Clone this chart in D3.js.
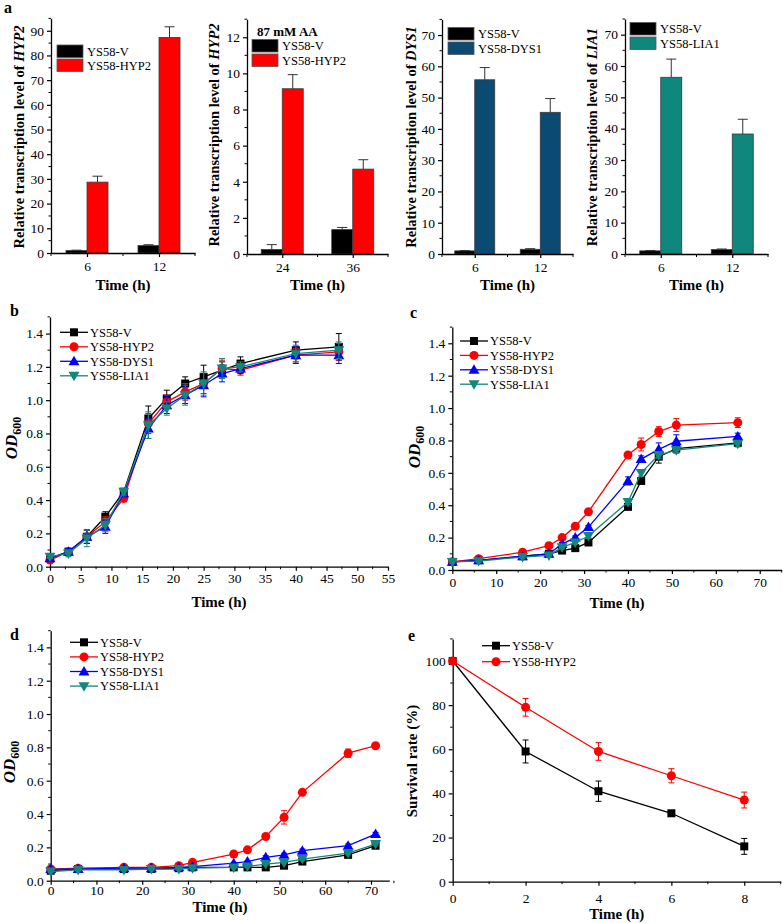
<!DOCTYPE html>
<html><head><meta charset="utf-8">
<script src="https://cdn.jsdelivr.net/npm/d3@7"></script>
<style>body{margin:0;background:#fff}svg{display:block}text{font-family:"Liberation Serif","Times New Roman",serif;fill:#000}</style>
</head><body><svg id="c" width="783" height="923"></svg>
<script>
// ---------------- DATA ----------------
const seriesNames = ["YS58-V","YS58-HYP2","YS58-DYS1","YS58-LIA1"];
const seriesColors = ["#000000","#ff0000","#0000ff","#13877d"];
const barColors = {V:"#000000", HYP2:"#ff0000", DYS1:"#0b4a72", LIA1:"#0f877c"};

// panel a1: HYP2 transcription
const a1Cats = ["6","12"];
const a1V = [1.0, 3.0], a1VErr = [0.15, 0.35];
const a1O = [28.7, 87.3], a1OErr = [2.4, 4.3];
// panel a2: HYP2 under 87 mM AA
const a2Cats = ["24","36"];
const a2V = [0.25, 1.35], a2VErr = [0.27, 0.12];
const a2O = [9.15, 4.7], a2OErr = [0.78, 0.52];
// panel a3: DYS1
const a3Cats = ["6","12"];
const a3V = [1.0, 1.5], a3VErr = [0.1, 0.2];
const a3O = [55.7, 45.3], a3OErr = [3.9, 4.4];
// panel a4: LIA1
const a4Cats = ["6","12"];
const a4V = [1.0, 1.4], a4VErr = [0.1, 0.2];
const a4O = [56.4, 38.3], a4OErr = [5.8, 4.7];

// panel b
const bTime = [0,3,6,9,12,16,19,22,25,28,31,40,47];
const bV    = [0.05,0.09,0.18,0.30,0.45,0.89,1.01,1.10,1.14,1.18,1.22,1.30,1.32];
const bHYP2 = [0.04,0.09,0.18,0.27,0.41,0.86,0.99,1.05,1.10,1.19,1.18,1.27,1.29];
const bDYS1 = [0.05,0.09,0.18,0.24,0.44,0.83,0.97,1.03,1.09,1.16,1.19,1.27,1.27];
const bLIA1 = [0.06,0.08,0.17,0.25,0.45,0.85,0.95,1.03,1.10,1.19,1.20,1.28,1.30];
const bVErr    = [0.01,0.02,0.04,0.03,0.02,0.075,0.05,0.04,0.07,0.05,0.04,0.05,0.08];
const bHYP2Err = [0.01,0.02,0.04,0.03,0.02,0.06,0.04,0.05,0.06,0.05,0.03,0.04,0.05];
const bDYS1Err = [0.01,0.02,0.04,0.04,0.02,0.06,0.05,0.05,0.07,0.05,0.03,0.05,0.05];
const bLIA1Err = [0.01,0.02,0.05,0.04,0.02,0.08,0.04,0.06,0.07,0.06,0.03,0.05,0.05];

// panel c
const cTime = [0,6,16,22,25,28,31,40,43,47,51,65];
const cV    = [0.05,0.06,0.085,0.10,0.12,0.135,0.17,0.39,0.55,0.70,0.75,0.785];
const cHYP2 = [0.05,0.07,0.11,0.15,0.20,0.27,0.36,0.71,0.775,0.855,0.895,0.91];
const cDYS1 = [0.05,0.06,0.085,0.10,0.16,0.20,0.265,0.55,0.685,0.745,0.795,0.825];
const cLIA1 = [0.05,0.055,0.08,0.09,0.14,0.17,0.21,0.42,0.60,0.71,0.74,0.78];
const cVErr    = [0.01,0.01,0.01,0.01,0.01,0.01,0.01,0.015,0.015,0.04,0.02,0.015];
const cHYP2Err = [0.01,0.01,0.01,0.01,0.01,0.01,0.01,0.015,0.04,0.03,0.04,0.03];
const cDYS1Err = [0.01,0.01,0.01,0.01,0.01,0.01,0.01,0.025,0.02,0.04,0.04,0.02];
const cLIA1Err = [0.01,0.01,0.01,0.01,0.01,0.01,0.01,0.015,0.02,0.02,0.02,0.02];

// panel d
const dTime = [0,6,16,22,28,31,40,43,47,51,55,65,71];
const dV    = [0.06,0.07,0.07,0.07,0.075,0.08,0.08,0.08,0.08,0.09,0.115,0.155,0.21];
const dHYP2 = [0.07,0.075,0.08,0.08,0.09,0.11,0.16,0.185,0.265,0.38,0.53,0.765,0.81];
const dDYS1 = [0.07,0.07,0.075,0.075,0.08,0.085,0.105,0.115,0.14,0.155,0.18,0.21,0.28];
const dLIA1 = [0.055,0.065,0.065,0.07,0.07,0.075,0.08,0.085,0.10,0.11,0.13,0.165,0.22];
const dVErr    = [0.005,0.005,0.005,0.005,0.005,0.005,0.005,0.005,0.005,0.005,0.01,0.01,0.01];
const dHYP2Err = [0.005,0.005,0.005,0.005,0.01,0.01,0.01,0.01,0.01,0.04,0.01,0.025,0.01];
const dDYS1Err = [0.005,0.005,0.005,0.005,0.005,0.005,0.005,0.005,0.01,0.01,0.01,0.01,0.01];
const dLIA1Err = [0.005,0.005,0.005,0.005,0.005,0.005,0.005,0.005,0.005,0.005,0.01,0.01,0.01];

// panel e
const eTime = [0,2,4,6,8];
const eV    = [100,59,41,31,16];
const eHYP2 = [100,79,59,48,37];
const eVErr    = [0,5.2,4.6,1.2,3.6];
const eHYP2Err = [0,4,4,3.2,3.6];

// ---------------- DRAWING ----------------
const svg = d3.select("#c");
const TICKFS = 13.5, LEGFS = 12.5, LABFS = 15;

function styleAxis(g){
  g.selectAll("path.domain").attr("stroke","#000").attr("stroke-width",1.3);
  g.selectAll(".tick line").attr("stroke","#000").attr("stroke-width",1.2);
  g.selectAll(".tick text").attr("font-family","Liberation Serif, serif").attr("font-size",TICKFS).attr("fill","#000");
}
function minorTicks(g, scale, vals, orient, len){
  vals.forEach(v=>{
    if(orient==="bottom") g.append("line").attr("x1",scale(v)).attr("x2",scale(v)).attr("y1",0).attr("y2",len).attr("stroke","#000").attr("stroke-width",1);
    else g.append("line").attr("y1",scale(v)).attr("y2",scale(v)).attr("x1",0).attr("x2",-len).attr("stroke","#000").attr("stroke-width",1);
  });
}
function range(a,b,s){const r=[];for(let v=a;v<=b+1e-9;v+=s)r.push(+v.toFixed(4));return r;}

function barPanel(o){
  const x = d3.scaleLinear().domain([0.5, o.cats.length+0.5]).range([o.left,o.right]);
  const y = d3.scaleLinear().domain([0,o.ymax]).range([o.y0,o.top]);
  const g = svg.append("g");
  const bw = o.bw;
  const groups = o.cats.map((c,i)=>({i, c, v:o.v[i], ve:o.ve[i], ov:o.ov[i], oe:o.oe[i]}));
  groups.forEach(d=>{
    const cx = x(d.i+1);
    [[cx-bw, d.v, d.ve, barColors.V],[cx, d.ov, d.oe, o.color]].forEach(([bx,val,err,col])=>{
      g.append("rect").attr("x",bx).attr("y",y(val)).attr("width",bw).attr("height",y(0)-y(val))
        .attr("fill",col).attr("stroke","#3a3a3a").attr("stroke-width",0.8);
      const mx = bx+bw/2;
      g.append("line").attr("x1",mx).attr("x2",mx).attr("y1",y(val)).attr("y2",y(val+err)).attr("stroke","#333").attr("stroke-width",1);
      g.append("line").attr("x1",mx-5).attr("x2",mx+5).attr("y1",y(val+err)).attr("y2",y(val+err)).attr("stroke","#333").attr("stroke-width",1);
    });
  });
  const gx = g.append("g").attr("transform",`translate(0,${o.y0})`)
    .call(d3.axisBottom(x).tickValues(o.cats.map((c,i)=>i+1)).tickFormat((v)=>o.cats[v-1]).tickSize(4).tickSizeOuter(0).tickPadding(4));
  styleAxis(gx);
  minorTicks(gx, x, [0.5,1.5,2.5], "bottom", 3);
  const gy = g.append("g").attr("transform",`translate(${o.left},0)`)
    .call(d3.axisLeft(y).tickValues(o.yt).tickSize(4).tickSizeOuter(0).tickPadding(3));
  styleAxis(gy);
  minorTicks(gy, y, o.ym, "left", 2.5);
  g.append("text").attr("x",(o.left+o.right)/2).attr("y",o.xlabY).attr("text-anchor","middle")
    .attr("font-weight","bold").attr("font-size",LABFS).text("Time (h)");
  const yl = g.append("text").attr("transform",`translate(${o.ylabX},${o.ylabY}) rotate(-90)`)
    .attr("text-anchor","middle").attr("font-weight","bold").attr("font-size",14.5);
  yl.append("tspan").text("Relative transcription level of ");
  yl.append("tspan").attr("font-style","italic").text(o.gene);
  if(o.legTitle){
    g.append("text").attr("x",o.legTitle[0]).attr("y",o.legTitle[1]).attr("font-weight","bold").attr("font-size",13).text("87 mM AA");
  }
  [[barColors.V,"YS58-V"],[o.color,o.legName]].forEach(([col,name],k)=>{
    const yy = o.legY + k*o.legDY;
    g.append("rect").attr("x",o.legX).attr("y",yy).attr("width",26).attr("height",12.5)
      .attr("fill",col).attr("stroke","#555").attr("stroke-width",0.8);
    g.append("text").attr("x",o.legX+30).attr("y",yy+10.5).attr("font-size",LEGFS).text(name);
  });
}

barPanel({cats:a1Cats, v:a1V, ve:a1VErr, ov:a1O, oe:a1OErr, color:barColors.HYP2, gene:"HYP2", legName:"YS58-HYP2",
  left:51, right:195, y0:253, top:18.4, ymax:95, yt:range(0,90,10), ym:range(5,95,10), bw:21,
  xlabY:290, ylabX:24, ylabY:137, legX:57, legY:45, legDY:14});
barPanel({cats:a2Cats, v:a2V, ve:a2VErr, ov:a2O, oe:a2OErr, color:barColors.HYP2, gene:"HYP2", legName:"YS58-HYP2",
  left:247, right:388, y0:254, top:19.2, ymax:13, yt:range(0,12,2), ym:range(1,13,2), bw:21,
  xlabY:290, ylabX:219, ylabY:135, legX:252, legY:39.5, legDY:14.5, legTitle:[257,36]});
barPanel({cats:a3Cats, v:a3V, ve:a3VErr, ov:a3O, oe:a3OErr, color:barColors.DYS1, gene:"DYS1", legName:"YS58-DYS1",
  left:442, right:573, y0:254, top:19.4, ymax:75, yt:range(0,70,10), ym:range(5,75,10), bw:20,
  xlabY:290, ylabX:416, ylabY:137, legX:448, legY:27.5, legDY:14.5});
barPanel({cats:a4Cats, v:a4V, ve:a4VErr, ov:a4O, oe:a4OErr, color:barColors.LIA1, gene:"LIA1", legName:"YS58-LIA1",
  left:625, right:768, y0:254, top:19, ymax:75, yt:range(0,70,10), ym:range(5,75,10), bw:21,
  xlabY:290, ylabX:597, ylabY:137, legX:630, legY:22.5, legDY:14.5});

function marker(g, k, cx, cy, col){
  if(k===0) g.append("rect").attr("x",cx-4).attr("y",cy-4).attr("width",8).attr("height",8).attr("fill",col);
  else if(k===1) g.append("circle").attr("cx",cx).attr("cy",cy).attr("r",4.5).attr("fill",col);
  else if(k===2) g.append("path").attr("d",d3.symbol(d3.symbolTriangle,52)()).attr("transform",`translate(${cx},${cy+0.8})`).attr("fill",col);
  else g.append("path").attr("d",d3.symbol(d3.symbolTriangle,52)()).attr("transform",`translate(${cx},${cy-0.8}) rotate(180)`).attr("fill",col);
}

function linePanel(o){
  const x = d3.scaleLinear().domain([0,o.xmax]).range([o.left,o.right]);
  const y = d3.scaleLinear().domain([0,o.ymax]).range([o.y0,o.top]);
  const g = svg.append("g");
  const gx = g.append("g").attr("transform",`translate(0,${o.y0})`)
    .call(d3.axisBottom(x).tickValues(o.xt).tickFormat(d3.format("d")).tickSize(4).tickSizeOuter(0).tickPadding(o.xpad===undefined?3:o.xpad));
  styleAxis(gx);
  minorTicks(gx, x, o.xm, "bottom", 2.5);
  const gy = g.append("g").attr("transform",`translate(${o.left},0)`)
    .call(d3.axisLeft(y).tickValues(o.yt).tickFormat(o.yfmt).tickSize(4).tickSizeOuter(0).tickPadding(3));
  styleAxis(gy);
  minorTicks(gy, y, o.ym, "left", 2.5);
  o.series.forEach((s,k)=>{
    const col = s.color;
    const pts = o.time.map((t,i)=>({t, v:s.v[i], e:s.e[i]}));
    pts.forEach(p=>{
      if(p.e>0){
        g.append("line").attr("x1",x(p.t)).attr("x2",x(p.t)).attr("y1",y(p.v-p.e)).attr("y2",y(p.v+p.e)).attr("stroke",col).attr("stroke-width",1);
        [p.v-p.e,p.v+p.e].forEach(yy=>g.append("line").attr("x1",x(p.t)-3).attr("x2",x(p.t)+3).attr("y1",y(yy)).attr("y2",y(yy)).attr("stroke",col).attr("stroke-width",1));
      }
    });
    g.append("path").datum(pts).attr("fill","none").attr("stroke",col).attr("stroke-width",1.3)
      .attr("d",d3.line().x(p=>x(p.t)).y(p=>y(p.v)));
    pts.forEach(p=>marker(g, s.m, x(p.t), y(p.v), col));
  });
  o.series.forEach((s,k)=>{
    const yy = o.legY + k*o.legDY;
    g.append("line").attr("x1",o.legX).attr("x2",o.legX+28).attr("y1",yy).attr("y2",yy).attr("stroke",s.color).attr("stroke-width",1.3);
    marker(g, s.m, o.legX+14, yy, s.color);
    g.append("text").attr("x",o.legX+30).attr("y",yy+4.3).attr("font-size",LEGFS).text(s.name);
  });
  g.append("text").attr("x",(o.left+o.right)/2).attr("y",o.xlabY).attr("text-anchor","middle")
    .attr("font-weight","bold").attr("font-size",LABFS).text("Time (h)");
  const yl = g.append("text").attr("transform",`translate(${o.ylabX},${o.ylabY}) rotate(-90)`)
    .attr("text-anchor","middle").attr("font-weight","bold").attr("font-size",o.ylabFS||17);
  if(o.od){
    yl.append("tspan").attr("font-style","italic").text("OD");
    yl.append("tspan").attr("font-size",12).attr("dy",4).text("600");
  } else yl.text(o.ylab);
  g.append("text").attr("x",o.letter[1]).attr("y",o.letter[2]).attr("font-weight","bold").attr("font-size",16).text(o.letter[0]);
}

const f1 = d3.format(".1f");
linePanel({time:bTime, series:[
  {name:seriesNames[0], color:seriesColors[0], m:0, v:bV, e:bVErr},
  {name:seriesNames[1], color:seriesColors[1], m:1, v:bHYP2, e:bHYP2Err},
  {name:seriesNames[2], color:seriesColors[2], m:2, v:bDYS1, e:bDYS1Err},
  {name:seriesNames[3], color:seriesColors[3], m:3, v:bLIA1, e:bLIA1Err}],
  left:50, right:388, xmax:55, xt:range(0,55,5), xm:range(2.5,52.5,5),
  y0:566.7, top:316.9, ymax:1.5, yt:range(0,1.4,0.2), ym:range(0.1,1.5,0.2), yfmt:f1,
  xlabY:607, ylabX:17, ylabY:438, od:true, legX:60, legY:332.3, legDY:14.5, letter:["b",10,316]});
linePanel({time:cTime, series:[
  {name:seriesNames[0], color:seriesColors[0], m:0, v:cV, e:cVErr},
  {name:seriesNames[1], color:seriesColors[1], m:1, v:cHYP2, e:cHYP2Err},
  {name:seriesNames[2], color:seriesColors[2], m:2, v:cDYS1, e:cDYS1Err},
  {name:seriesNames[3], color:seriesColors[3], m:3, v:cLIA1, e:cLIA1Err}],
  left:452.3, right:781.7, xmax:75, xt:range(0,70,10), xm:range(5,75,10),
  y0:570, top:327.1, ymax:1.5, yt:range(0,1.4,0.2), ym:range(0.1,1.5,0.2), yfmt:f1,
  xlabY:608, ylabX:420, ylabY:447, od:true, legX:460, legY:341, legDY:14.4, letter:["c",410,318]});
linePanel({time:dTime, series:[
  {name:seriesNames[0], color:seriesColors[0], m:0, v:dV, e:dVErr},
  {name:seriesNames[1], color:seriesColors[1], m:1, v:dHYP2, e:dHYP2Err},
  {name:seriesNames[2], color:seriesColors[2], m:2, v:dDYS1, e:dDYS1Err},
  {name:seriesNames[3], color:seriesColors[3], m:3, v:dLIA1, e:dLIA1Err}],
  left:50.7, right:389.3, xmax:74, xt:range(0,70,10), xm:range(5,75,10), xpad:1,
  y0:880.7, top:630.7, ymax:1.5, yt:range(0,1.4,0.2), ym:range(0.1,1.5,0.2), yfmt:f1,
  xlabY:912, ylabX:15, ylabY:762, od:true, legX:70, legY:642.3, legDY:14.6, letter:["d",10,640]});
linePanel({time:eTime, series:[
  {name:seriesNames[0], color:seriesColors[0], m:0, v:eV, e:eVErr},
  {name:seriesNames[1], color:seriesColors[1], m:1, v:eHYP2, e:eHYP2Err}],
  left:452.7, right:780.7, xmax:9, xt:range(0,8,2), xm:range(1,9,2), xpad:8,
  y0:881.7, top:638.9, ymax:110, yt:range(0,100,20), ym:range(10,110,20), yfmt:d3.format("d"),
  xlabY:919, ylabX:417, ylabY:761, ylab:"Survival rate (%)", ylabFS:15, legX:482, legY:645.7, legDY:16, letter:["e",408,641]});

svg.append("text").attr("x",4).attr("y",13).attr("font-weight","bold").attr("font-size",16).text("a");
</script></body></html>
